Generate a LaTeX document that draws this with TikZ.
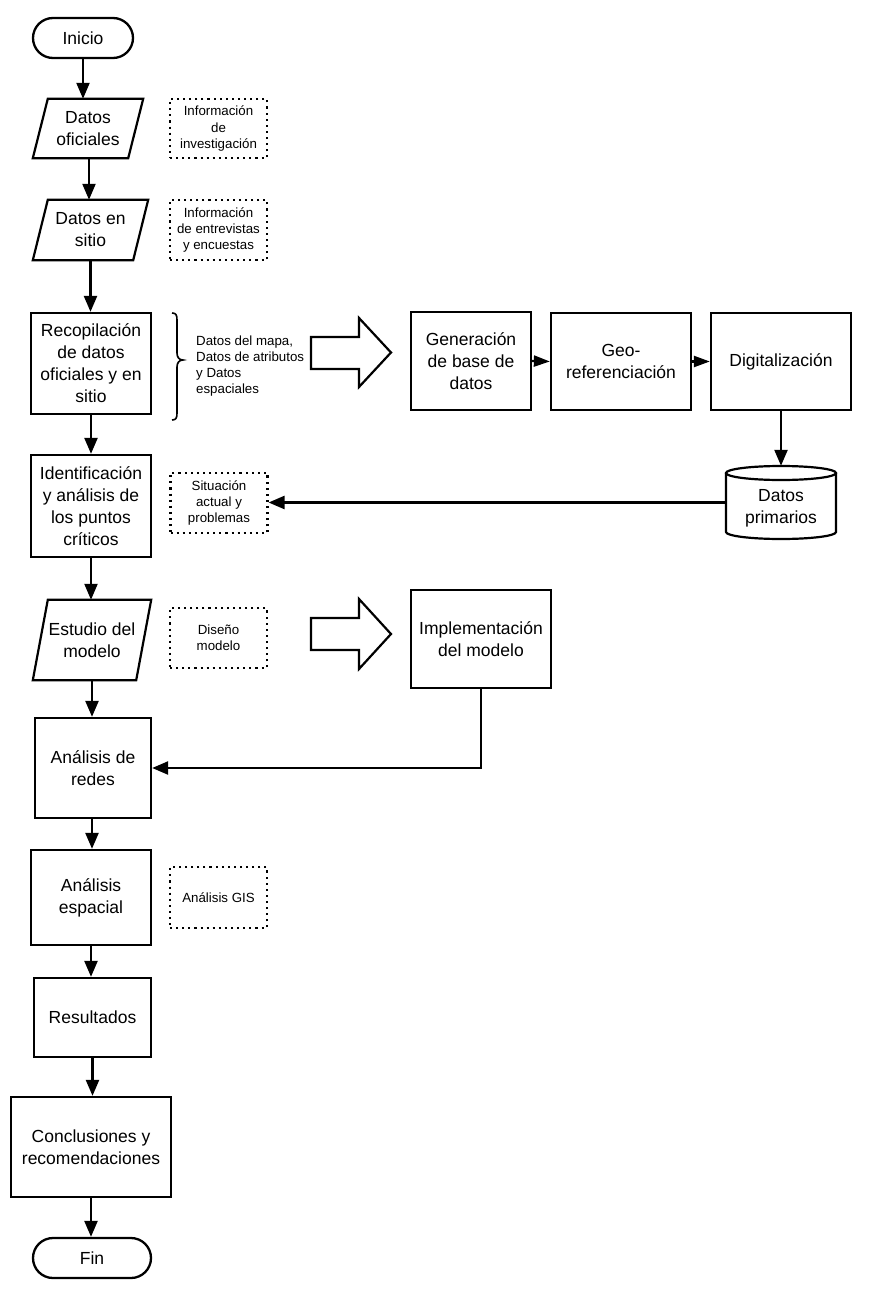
\documentclass[tikz,border=0pt]{standalone}
\usepackage{fontspec}
\setmainfont{Liberation Sans}
\usetikzlibrary{arrows.meta}
\tikzset{
  big/.style={font=\fontsize{17.5}{22}\selectfont, align=center, inner sep=0pt},
  small/.style={font=\fontsize{13.3}{16.2}\selectfont, align=center, inner sep=0pt},
  procbox/.style={big, draw, line width=2.3pt},
  term/.style={procbox, rounded corners=20pt},
  notebox/.style={small, draw, line width=2.1pt, dash pattern=on 2.1pt off 4pt, minimum width=97pt, minimum height=60pt},
  arr/.style={line width=2.3pt, -{Triangle[length=16pt,width=13pt]}},
  harr/.style={line width=2.3pt, -{Triangle[length=16pt,width=11pt]}},
  outline/.style={line width=2.2pt, line join=miter},
  partext/.style={big}
}
\newcommand\mypara[6]{%
  \node[partext, minimum width=#4pt, minimum height=#5pt] (#1) at (#2,#3) {#6};
  \draw[outline] ([xshift=15pt]#1.north west) -- (#1.north east) -- ([xshift=-15pt]#1.south east) -- (#1.south west) -- cycle;}
\begin{document}
\begin{tikzpicture}[x=1pt,y=-1pt]
\useasboundingbox[fill=white] (0,0) rectangle (873,1297);

% main column
\node[term, minimum width=100pt, minimum height=40pt] (ini) at (83,38) {Inicio};
\mypara{do}{88}{128.5}{110}{59}{Datos\\oficiales}
\mypara{ds}{90.5}{230}{115}{60}{Datos en\\sitio}
\node[procbox, minimum width=120pt, minimum height=101pt] (rec) at (91,363.5) {Recopilación\\de datos\\oficiales y en\\sitio};
\node[procbox, minimum width=120pt, minimum height=102pt] (ide) at (91,506) {Identificación\\y análisis de\\los puntos\\críticos};
\mypara{est}{92}{640}{118}{80}{Estudio del\\modelo}
\node[procbox, minimum width=116pt, minimum height=100pt] (red) at (93,768) {Análisis de\\redes};
\node[procbox, minimum width=120pt, minimum height=95pt] (esp) at (91,897.5) {Análisis\\espacial};
\node[procbox, minimum width=117pt, minimum height=79pt] (res) at (92.5,1017.5) {Resultados};
\node[procbox, minimum width=160pt, minimum height=100pt] (con) at (91,1147) {Conclusiones y\\recomendaciones};
\node[term, minimum width=118pt, minimum height=40pt] (fin) at (92,1258) {Fin};

% notes
\node[notebox, minimum height=59pt] (n1) at (218.5,128.5) {Información\\de\\investigación};
\node[notebox] (n2) at (218.5,230) {Información\\de entrevistas\\y encuestas};
\node[notebox] (n3) at (219,503) {Situación\\actual y\\problemas};
\node[notebox] (n4) at (218.5,638) {Diseño\\modelo};
\node[notebox, minimum height=61pt] (n5) at (218.5,897.5) {Análisis GIS};

% brace and its text
\draw[line width=1.6pt] (172,313) .. controls (176,313) and (177,315) .. (177,320) -- (177,353)
  .. controls (177,357) and (179,360) .. (183,360) .. controls (179,360) and (177,363) .. (177,367)
  -- (177,413) .. controls (177,418) and (176,420) .. (172,420);
\node[small, align=left, anchor=west] (bt) at (196,366) {Datos del mapa,\\Datos de atributos\\y Datos\\espaciales};

% hollow arrows
\draw[outline] (311,337) -- (359,337) -- (359,318) -- (391,352.5) -- (359,387) -- (359,369) -- (311,369) -- cycle;
\draw[outline] (311,618) -- (359,618) -- (359,599) -- (391,634) -- (359,669) -- (359,650) -- (311,650) -- cycle;

% right part
\node[procbox, minimum width=120pt, minimum height=98pt] (gen) at (471,361) {Generación\\de base de\\datos};
\node[procbox, minimum width=140pt, minimum height=97pt] (geo) at (621,361.5) {Geo-\\referenciación};
\node[procbox, minimum width=140pt, minimum height=97pt] (dig) at (781,361.5) {Digitalización};
\node[procbox, minimum width=140pt, minimum height=98pt] (imp) at (481,639) {Implementación\\del modelo};

% cylinder
\node[minimum width=110pt, minimum height=73pt, inner sep=0pt] (dp) at (781,502.5) {};
\draw[outline] (726,473) -- (726,532) arc[start angle=180, end angle=360, x radius=55pt, y radius=7pt] -- (836,473);
\draw[outline] (781,473) ellipse[x radius=55pt, y radius=7pt];
\node[big] (dpt) at (781,508) {Datos\\primarios};

% connectors
\draw[arr] (ini.south) -- (ini.south |- do.north);
\draw[arr] ([xshift=1pt]do.south) -- ([xshift=1pt]do.south |- ds.north);
\draw[arr] (ds.south) -- (ds.south |- rec.north);
\draw[arr] (rec.south) -- (ide.north);
\draw[arr] (ide.south) -- (ide.south |- est.north);
\draw[arr] (est.south) -- (est.south |- red.north);
\draw[arr] ([xshift=-1pt]red.south) -- ([xshift=-1pt]red.south |- esp.north);
\draw[arr] (esp.south) -- (esp.south |- res.north);
\draw[arr] (res.south) -- (res.south |- con.north);
\draw[arr] (con.south) -- (con.south |- fin.north);
\draw[harr] (gen.east) -- (geo.west);
\draw[harr] (geo.east) -- (dig.west);
\draw[arr] (dig.south) -- (dp.north);
\draw[arr] (dp.west) -- (dp.west -| n3.east);
\draw[arr] (imp.south) |- (red.east);
\end{tikzpicture}
\end{document}
